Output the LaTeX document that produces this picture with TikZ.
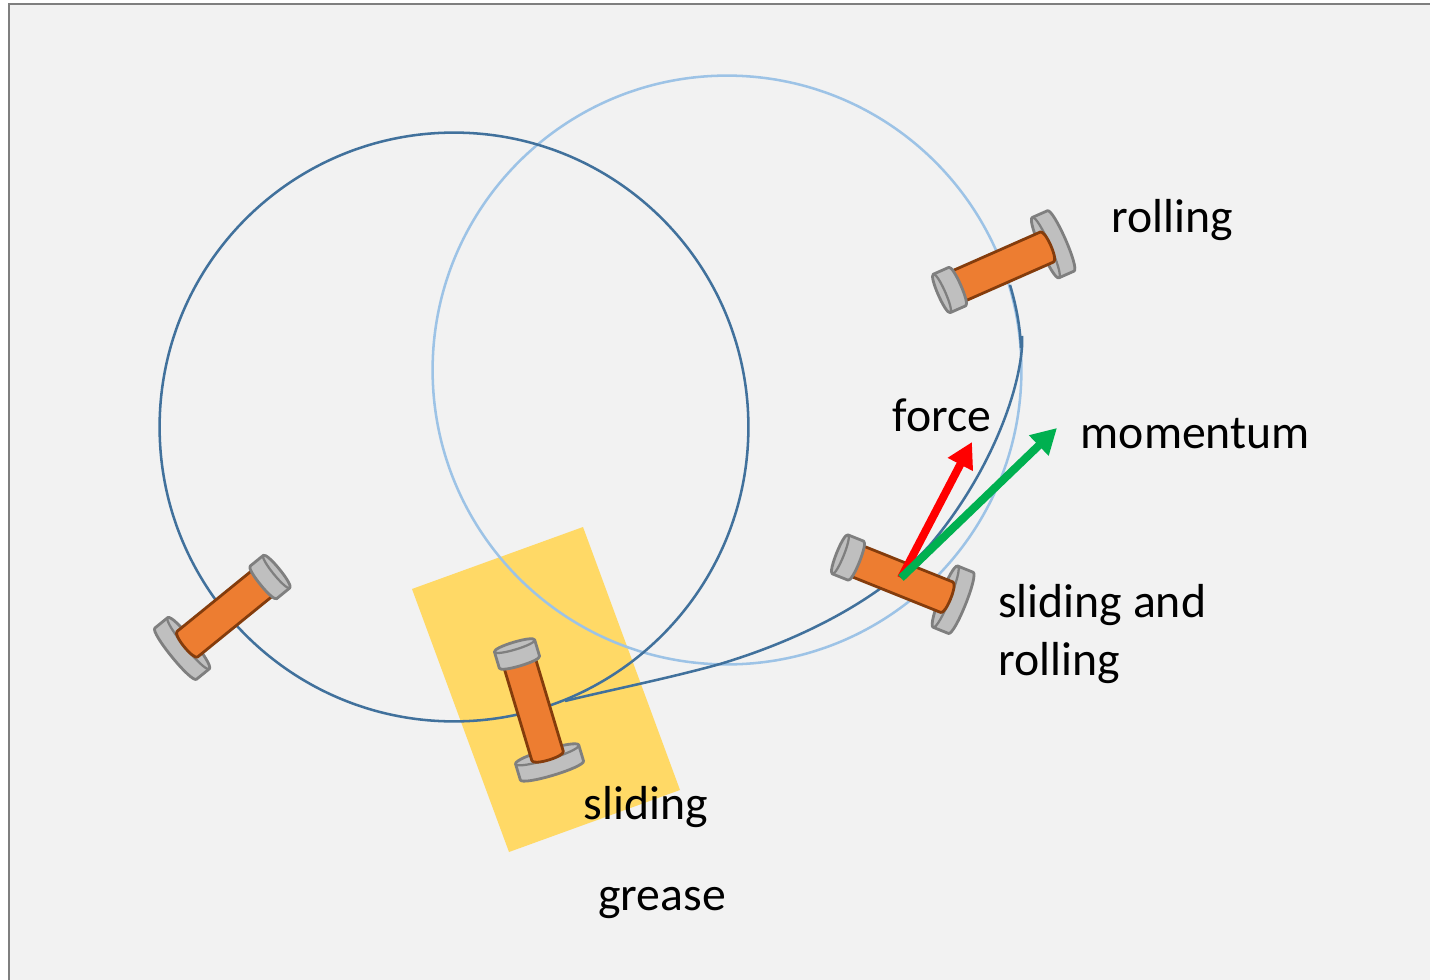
\documentclass[tikz,border=0pt]{standalone}
\usepackage{fontspec}
\setmainfont{Carlito}
\usetikzlibrary{arrows.meta}
\definecolor{pagebg}{HTML}{F2F2F2}
\definecolor{frameline}{HTML}{7F7F7F}
\definecolor{bodyfill}{HTML}{ED7D31}
\definecolor{bodyline}{HTML}{843C0C}
\definecolor{capfill}{HTML}{BFBFBF}
\definecolor{greasefill}{HTML}{FFD966}
\definecolor{darkring}{HTML}{41719C}
\definecolor{lightring}{HTML}{9DC3E6}
\definecolor{forcered}{HTML}{FF0000}
\definecolor{momgreen}{HTML}{00B050}
\tikzset{
  x=0.75pt,y=-0.75pt,
  capstyle/.style={draw=frameline,fill=capfill,line width=2.1pt,line join=round},
  capline/.style={draw=frameline,line width=1.7pt},
  bodystyle/.style={draw=bodyline,fill=bodyfill,line width=2.1pt,line join=round},
  ringdark/.style={draw=darkring,line width=1.9pt},
  ringlight/.style={draw=lightring,line width=1.9pt},
  vecarrow/.style={line width=6pt,-{Triangle[length=19pt,width=20pt]}},
  label/.style={font=\fontsize{35.8}{43.5}\selectfont,inner sep=0pt,anchor=base west,text=black},
  spool/.pic={
    % big cap
    \path[capstyle] (105,-33) .. controls (98.3,-33) and (98.3,33) .. (105,33) -- (121.5,33)
       .. controls (128.2,33) and (128.2,-33) .. (121.5,-33) -- cycle;
    \path[capline] (105,-33) .. controls (111.7,-33) and (111.7,33) .. (105,33);
    % body
    \path[bodystyle] (5,-16.4) -- (106.5,-16.4) .. controls (112,-16.4) and (112,16.4) .. (106.5,16.4)
       -- (5,16.4) -- cycle;
    % small cap
    \path[capstyle] (-8.5,-21) .. controls (-13.5,-21) and (-13.5,21) .. (-8.5,21) -- (8.5,21)
       .. controls (13.5,21) and (13.5,-21) .. (8.5,-21) -- cycle;
    \path[capline] (-8.5,-21) .. controls (-3.5,-21) and (-3.5,21) .. (-8.5,21);
  }
}
\begin{document}
\begin{tikzpicture}
\useasboundingbox (0,0) rectangle (1430,980);
\fill[white] (0,0) rectangle (1430,980);
\fill[pagebg] (9,4) rectangle (1430,980);
\draw[frameline,line width=2.2pt] (9,980) -- (9,4) -- (1430,4);

\fill[greasefill] (412,589) -- (583,527) -- (680,790) -- (509,852) -- cycle;

\node[ringlight,circle,minimum size=441.6pt,inner sep=0pt] (lightcircle) at (727,370) {};
\node[ringdark,circle,minimum size=441.6pt,inner sep=0pt] (darkcircle) at (454,427) {};
\draw[ringdark] (1010,285) .. controls (1016,305) and (1020,325) .. (1021,348);
\draw[ringdark] (1022,336) -- (1022,347)
  .. controls (1018,400) and (985,480) .. (930,545)
  .. controls (880,600) and (800,640) .. (720,664)
  .. controls (670,678) and (610,690) .. (565,701);

\pic[rotate=23.8] at (949.5,290) {spool};
\pic[rotate=-21.9] at (848,557.5) {spool};
\pic[rotate=-73.3] at (517,654) {spool};
\pic[rotate=219.1] at (270,577) {spool};

\coordinate (origin) at (901,578);
\coordinate (forcetip) at (972,442);
\coordinate (momtip) at (1057,428);
\draw[vecarrow,forcered] (origin) -- (forcetip);
\draw[vecarrow,momgreen] (origin) -- (momtip);

\node[label] (t1) at (1111.5,233) {rolling};
\node[label] (t2) at (892.5,431) {force};
\node[label] (t3) at (1080.5,448) {momentum};
\node[label] (t4) at (998,617) {sliding and};
\node[label] (t5) at (998,675) {rolling};
\node[label] (t6) at (583.5,819) {sliding};
\node[label] (t7) at (598,910) {grease};
\end{tikzpicture}
\end{document}
